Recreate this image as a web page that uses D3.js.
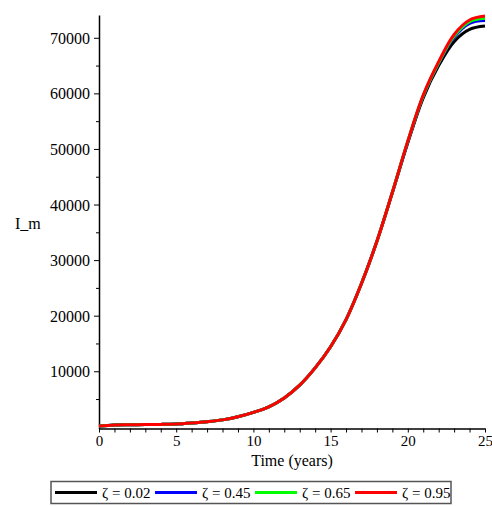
<!DOCTYPE html>
<html>
<head>
<meta charset="utf-8">
<script src="https://cdn.jsdelivr.net/npm/d3@7"></script>
<style>
  body { margin: 0; background: #fff; }
  text { font-family: "Liberation Serif", "Times New Roman", serif; fill: #000; }
</style>
</head>
<body>
<svg id="chart" width="492" height="506"></svg>
<script>
// time in years
var years = [0, 1, 2, 3, 4, 5, 6, 7, 8, 9, 10, 11, 12, 13, 14, 15, 16, 17, 18, 19, 20, 21, 22, 23, 24, 25];

// I_m for each zeta (curves overlap until ~t=19)
var im002 = [150, 350, 380, 400, 440, 520, 700, 930, 1250, 1800, 2600, 3600, 5200, 7500, 10600, 14400, 19300, 25800, 33400, 42100, 51100, 59200, 65000, 69300, 71500, 72100];
var im045 = [150, 350, 380, 400, 440, 520, 700, 930, 1250, 1800, 2600, 3600, 5200, 7500, 10600, 14400, 19300, 25800, 33400, 42200, 51300, 59500, 65400, 70100, 72600, 73100];
var im065 = [150, 350, 380, 400, 440, 520, 700, 930, 1250, 1800, 2600, 3600, 5200, 7500, 10600, 14400, 19300, 25800, 33400, 42200, 51400, 59600, 65500, 70300, 72900, 73500];
var im095 = [150, 350, 380, 400, 440, 520, 700, 930, 1250, 1800, 2600, 3600, 5200, 7500, 10600, 14400, 19300, 25800, 33400, 42200, 51400, 59700, 65700, 70600, 73200, 73900];

var zetaLabels = ['ζ = 0.02', 'ζ = 0.45', 'ζ = 0.65', 'ζ = 0.95'];
var zetaColors = ['#000000', '#0000ff', '#00ff00', '#ff0000'];

var xTicks = [0, 5, 10, 15, 20, 25];
var yTicks = [10000, 20000, 30000, 40000, 50000, 60000, 70000];

/*=================
=== Scales
=================*/
var svg = d3.select('#chart');

var x = d3.scaleLinear().domain([0, 25]).range([99, 485]);
var y = d3.scaleLinear().domain([-300, 74100]).range([428.5, 15]);

var series = [im002, im045, im065, im095].map(function (vals, i) {
	return { name: zetaLabels[i], color: zetaColors[i], values: vals };
});

var line = d3.line()
	.curve(d3.curveCatmullRom.alpha(0.5))
	.x(function (d, i) { return x(years[i]); })
	.y(function (d) { return y(d); });

/*=================
=== Axes
=================*/
// minor ticks first
var minorY = d3.range(5000, 74000, 10000);
svg.append('g')
	.attr('transform', 'translate(99,0)')
	.call(d3.axisLeft(y).tickValues(minorY).tickSize(3).tickFormat(''))
	.select('.domain').remove();

var minorX = d3.range(0, 26, 1).filter(function (d) { return d % 5 !== 0; });
svg.append('g')
	.attr('transform', 'translate(0,428.5)')
	.call(d3.axisBottom(x).tickValues(minorX).tickSize(4).tickFormat(''))
	.select('.domain').remove();

var yAxis = svg.append('g')
	.attr('transform', 'translate(99,0)')
	.call(d3.axisLeft(y).tickValues(yTicks).tickFormat(d3.format('d')).tickSize(5).tickPadding(4).tickSizeOuter(0));
yAxis.selectAll('text').style('font-size', '16px').attr('dy', '0.35em');

var xAxis = svg.append('g')
	.attr('transform', 'translate(0,428.5)')
	.call(d3.axisBottom(x).tickValues(xTicks).tickSize(4).tickPadding(3).tickSizeOuter(0));
xAxis.selectAll('text').style('font-size', '15px');

svg.selectAll('.domain').attr('stroke', '#000').attr('stroke-width', 1.5);
svg.selectAll('.tick line').attr('stroke', '#000');

svg.append('text')
	.attr('x', 292).attr('y', 466)
	.attr('text-anchor', 'middle')
	.style('font-size', '16px')
	.text('Time (years)');

svg.append('text')
	.attr('x', 15).attr('y', 229)
	.style('font-size', '16px')
	.text('I_m');

/*=================
=== Lines
=================*/
svg.append('g').selectAll('path')
	.data(series)
	.enter()
	.append('path')
	.attr('d', function (d) { return line(d.values); })
	.attr('fill', 'none')
	.attr('stroke', function (d) { return d.color; })
	.attr('stroke-width', 3);

/*=================
=== Legend
=================*/
var legend = svg.append('g');
legend.append('rect')
	.attr('x', 51).attr('y', 481.5)
	.attr('width', 400).attr('height', 22)
	.attr('fill', '#fff')
	.attr('stroke', '#555')
	.attr('stroke-width', 1.5);

var item = legend.selectAll('.item')
	.data(series)
	.enter()
	.append('g')
	.attr('class', 'item')
	.attr('transform', function (d, i) { return 'translate(' + (55 + i * 100) + ',492.5)'; });

item.append('line')
	.attr('x1', 0).attr('x2', 42)
	.attr('stroke', function (d) { return d.color; })
	.attr('stroke-width', 3);

item.append('text')
	.attr('x', 47).attr('dy', '0.35em')
	.style('font-size', '15px')
	.text(function (d) { return d.name; });
</script>
</body>
</html>
